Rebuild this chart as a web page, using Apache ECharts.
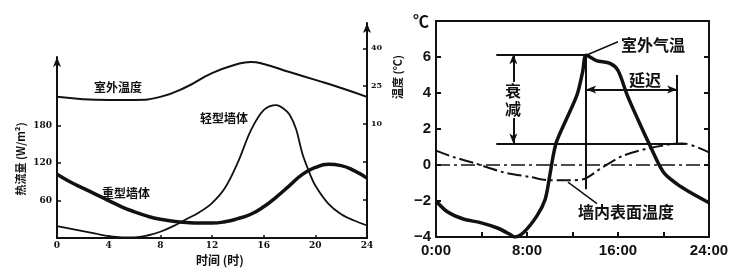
<!DOCTYPE html>
<html><head><meta charset="utf-8">
<script src="https://cdn.jsdelivr.net/npm/echarts@6/dist/echarts.min.js"></script>
<style>html,body{margin:0;padding:0;background:#fff}#c{width:754px;height:276px}</style>
</head><body><div id="c"></div>
<script>
// ---- Left chart data ----
const hourTicksL = [0,4,8,12,16,20,24];
const fluxTicks = [60,120,180];
const tempTicksR = [-20,-5,10,25,40];
const tempLabelsR = [10,25,40];
const hourLabelsR = [0,8,16,24];
const hoursOut = [0,2,4,6,8,10,12,14,15,16,18,20,22,24];
const outdoorTempL = [20.8,19.9,19.6,19.6,20.8,24.7,30.2,33.8,34.6,33.8,30.6,27.5,24.3,20.8];
const hoursLight = [0,1,2,3,4,5,6,7,8,9,10,11,12,13,14,15,16,17,17.5,18,18.5,19,19.5,20,21,22,23,24];
const lightWall = [19,15,11,7,3,1,1,4,10,19,30,41,56,80,121,172,205,213,208,198,175,135,107,84,55,38,28,20];
const hoursHeavy = [0,1,2,3,4,5,6,7,8,9,10,11,12,13,14,15,16,17,18,19,20,21,22,23,24];
const heavyWall = [102,90,80,70,60,50,42,35,30,27,25,24,24,26,31,38,50,66,84,102,113,118,116,108,96];
// ---- Right chart data ----
const hoursAir = [0,1,2.4,3.9,5.4,6.5,6.9,7.7,8.9,9.6,10,10.3,10.6,11.5,12.4,12.9,13.2,14.1,15.3,16,16.8,17.7,18.8,20,21.2,22.3,24];
const airTemp = [-2.0,-2.6,-3.0,-3.2,-3.5,-3.85,-4.0,-3.75,-2.8,-1.9,-0.6,0.5,1.3,2.6,3.9,5.2,6.1,5.8,5.65,5.25,3.9,2.6,1.1,-0.4,-1.06,-1.5,-2.1];
const hoursWall = [0,1.5,3.6,5.9,8.3,10,11.8,12.9,14.7,16.4,18.5,20.8,21.7,24];
const wallTemp = [0.8,0.45,0.06,-0.4,-0.67,-0.85,-0.85,-0.8,-0.1,0.5,0.9,1.17,1.2,0.7];
// annotation values (data units)
const airPeak = [13.2, 6.15];
const wallPeak = [21.4, 1.2];
const guideStartHour = 5.3;
const decayArrowHour = 6.8;
const delayArrowLevel = 4.2;
const delayLineTop = 5.0;
const peakLineBottom = -1.35;
const airLeader = [[13.2,6.1],[16.0,6.85]];
const wallLeader = [[11.6,-0.95],[14.15,-2.15]];

const zip = (a,b)=>a.map((x,i)=>[x,b[i]]);
const K = '#111';
const numFont = 'Liberation Sans';
const cjk = '"Noto Sans CJK SC"';

const chart = echarts.init(document.getElementById('c'), null, {renderer:'canvas'});
const thinAxis = {onZero:false, lineStyle:{color:K,width:2}};
const option = {
  backgroundColor:'#fff',
  animation:false,
  grid:[
    {left:57, top:57, width:310, height:181},
    {left:57, top:23, width:310, height:215},
    {left:436, top:21, width:273, height:216}
  ],
  xAxis:[
    {gridIndex:0, type:'value', min:0, max:24, interval:4,
     axisLine:thinAxis, axisTick:{inside:true,length:3,lineStyle:{color:K,width:1.5}},
     axisLabel:{color:K, fontSize:9, fontWeight:'bold', fontFamily:'DejaVu Serif', margin:3},
     splitLine:{show:false}},
    {gridIndex:1, type:'value', min:0, max:24, show:false},
    {gridIndex:2, type:'value', min:0, max:24, interval:4,
     axisLine:thinAxis, axisTick:{inside:true,length:5,lineStyle:{color:K,width:2}},
     axisLabel:{color:K, fontSize:15, fontWeight:'bold', fontFamily:numFont, margin:6, customValues:hourLabelsR,
       formatter:v=>v+':00'},
     splitLine:{show:false}},
    {gridIndex:2, type:'value', min:0, max:24, position:'top',
     axisLine:thinAxis, axisTick:{show:false}, axisLabel:{show:false}, splitLine:{show:false}}
  ],
  yAxis:[
    {gridIndex:0, type:'value', min:0, max:290,
     axisLine:{show:true, onZero:false, lineStyle:{color:K,width:2}, symbol:['none','arrow'], symbolSize:[6,10]},
     axisTick:{show:true, inside:true, length:4, customValues:fluxTicks, lineStyle:{color:K,width:1.5}},
     axisLabel:{color:K, fontSize:9, fontWeight:'bold', fontFamily:'DejaVu Serif', margin:5, customValues:fluxTicks},
     splitLine:{show:false}},
    {gridIndex:1, type:'value', min:-35, max:50, position:'right',
     axisLine:{show:true, onZero:false, lineStyle:{color:K,width:2}, symbol:['none','arrow'], symbolSize:[6,10]},
     axisTick:{show:true, inside:true, length:4, customValues:tempTicksR, lineStyle:{color:K,width:1.5}},
     axisLabel:{color:K, fontSize:8, fontWeight:'bold', fontFamily:'DejaVu Serif', margin:4, customValues:tempLabelsR},
     splitLine:{show:false}},
    {gridIndex:2, type:'value', min:-4, max:8, interval:2,
     axisLine:thinAxis, axisTick:{inside:true,length:5,lineStyle:{color:K,width:2}},
     axisLabel:{color:K, fontSize:15, fontWeight:'bold', fontFamily:numFont, margin:5,
       formatter:v=> v>6 ? '' : String(v).replace('-','\u2212')},
     splitLine:{show:false}},
    {gridIndex:2, type:'value', min:-4, max:8, interval:2, position:'right',
     axisLine:thinAxis, axisTick:{inside:true,length:5,lineStyle:{color:K,width:2}},
     axisLabel:{show:false}, splitLine:{show:false}}
  ],
  series:[
    {type:'line', xAxisIndex:1, yAxisIndex:1, data:zip(hoursOut,outdoorTempL), smooth:0.5, symbol:'none',
     lineStyle:{color:K,width:2}},
    {type:'line', xAxisIndex:0, yAxisIndex:0, data:zip(hoursLight,lightWall), smooth:0.35, symbol:'none',
     lineStyle:{color:K,width:1.8}},
    {type:'line', xAxisIndex:0, yAxisIndex:0, data:zip(hoursHeavy,heavyWall), smooth:0.5, symbol:'none',
     lineStyle:{color:K,width:3.5}},
    {type:'line', xAxisIndex:2, yAxisIndex:2, data:zip(hoursAir,airTemp), smooth:0.3, symbol:'none',
     lineStyle:{color:K,width:3.5},
     markLine:{silent:true, symbol:'none', animation:false, label:{show:false},
       lineStyle:{color:K,width:2,type:'solid'},
       data:[
         [{coord:[guideStartHour,airPeak[1]]},{coord:airPeak}],
         [{coord:[guideStartHour,wallPeak[1]]},{coord:[wallPeak[0]+0.5,wallPeak[1]]}],
         [{coord:[airPeak[0],airPeak[1]]},{coord:[airPeak[0],peakLineBottom]}],
         [{coord:[wallPeak[0]-0.2,delayLineTop]},{coord:[wallPeak[0]-0.2,wallPeak[1]]}],
         [{coord:airLeader[0]},{coord:airLeader[1], lineStyle:{width:1.5}}],
         [{coord:wallLeader[0]},{coord:wallLeader[1], lineStyle:{width:1.5}}],
         [{coord:[decayArrowHour,airPeak[1]], symbol:'arrow', symbolSize:[6,10]},{coord:[decayArrowHour,wallPeak[1]], symbol:'arrow', symbolSize:[6,10]}],
         [{coord:[airPeak[0],delayArrowLevel], symbol:'arrow', symbolSize:[6,10]},{coord:[wallPeak[0]-0.2,delayArrowLevel], symbol:'arrow', symbolSize:[6,10]}]
       ]}},
    {type:'line', xAxisIndex:2, yAxisIndex:2, data:zip(hoursWall,wallTemp), smooth:0.3, symbol:'none',
     lineStyle:{color:K,width:2,type:[14,4,3,4]},
     markLine:{silent:true, symbol:'none', label:{show:false},
       lineStyle:{color:K,width:1.5,type:[14,4,3,4]},
       data:[{yAxis:0}]}}
  ],
  graphic:[
    {type:'text', x:118, y:87, style:{text:'室外温度', font:'bold 12px '+cjk, fill:K, align:'center', verticalAlign:'middle'}},
    {type:'text', x:224, y:118, style:{text:'轻型墙体', font:'bold 12px '+cjk, fill:K, align:'center', verticalAlign:'middle'}},
    {type:'text', x:126, y:193, style:{text:'重型墙体', font:'bold 12px '+cjk, fill:K, align:'center', verticalAlign:'middle'}},
    {type:'text', x:220, y:260, style:{text:'时间 (时)', font:'bold 12px '+cjk, fill:K, align:'center', verticalAlign:'middle'}},
    {type:'text', x:21, y:159, rotation:Math.PI/2, style:{text:'热流量 (W/m²)', font:'bold 11px '+cjk, fill:K, align:'center', verticalAlign:'middle'}},
    {type:'text', x:398, y:77, rotation:Math.PI/2, style:{text:'温度 (℃)', font:'bold 11px '+cjk, fill:K, align:'center', verticalAlign:'middle'}},
    {type:'text', x:421, y:21, style:{text:'℃', font:'bold 16px '+cjk, fill:K, align:'center', verticalAlign:'middle'}},
    {type:'text', x:653, y:45, style:{text:'室外气温', font:'bold 16px '+cjk, fill:K, align:'center', verticalAlign:'middle'}},
    {type:'text', x:645, y:80, style:{text:'延迟', font:'bold 16px '+cjk, fill:K, align:'center', verticalAlign:'middle'}},
    {type:'text', x:626, y:212, style:{text:'墙内表面温度', font:'bold 16px '+cjk, fill:K, align:'center', verticalAlign:'middle'}},
    {type:'text', x:513, y:100, z:100, style:{text:'衰\n减', font:'bold 16px '+cjk, lineHeight:18, fill:K, align:'center', verticalAlign:'middle', backgroundColor:'#fff'}}
  ]
};
chart.setOption(option);
</script></body></html>
